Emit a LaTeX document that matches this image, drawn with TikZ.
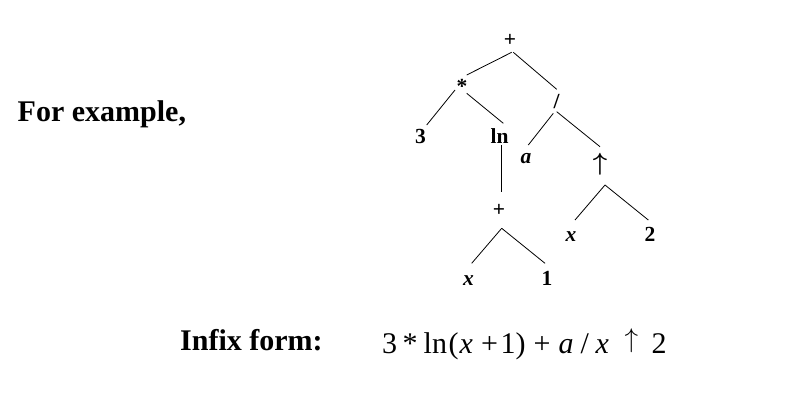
\documentclass[tikz,border=0pt]{standalone}
\usepackage{fontspec}
\setmainfont{Liberation Serif}
\newcommand\glyphat[2]{\makebox[0pt][l]{\hspace*{#1pt}#2}}
\newcommand\uparr[1]{\scalebox{#1}{\raisebox{\depth}{\fontsize{24.88}{25}\selectfont$\uparrow$}}}
\newcommand\bolduparr[1]{\scalebox{#1}{\raisebox{\depth}{\fontsize{24.88}{25}\selectfont\boldmath$\uparrow$}}}
\begin{document}
\begin{tikzpicture}[x=1pt,y=-1pt,
  lbl/.style={font=\fontsize{21.5}{21.5}\selectfont\bfseries, inner sep=0pt, anchor=base},
  big/.style={font=\fontsize{30}{30}\selectfont\bfseries, inner sep=0pt, anchor=base west},
  formula/.style={font=\fontsize{30}{30}\selectfont, inner sep=0pt, anchor=base west},
  edge/.style={line width=0.8pt, black}]
\useasboundingbox (0,0) rectangle (786,407);
% tree labels
\node[lbl] (plus1) at (510,46) {+};
\node[lbl] (star) at (462,93) {*};
\node[lbl] (slash) at (556.5,108) {/};
\node[lbl] (three) at (420.5,143) {3};
\node[lbl] (ln) at (499.5,143) {ln};
\node[lbl] (a) at (526,163) {\itshape a};
\node[lbl] (up) at (600,175) {\bolduparr{1}};
\node[lbl] (plus2) at (499,216.5) {+};
\node[lbl] (x1) at (468.5,285) {\itshape x};
\node[lbl] (one) at (547,285) {1};
\node[lbl] (x2) at (571,241) {\itshape x};
\node[lbl] (two) at (650,241) {2};
% edges
\draw[edge] ([shift={(1.7,6.3)}]plus1.base) -- ([shift={(4.7,-18)}]star.base);
\draw[edge] ([shift={(3.3,6.3)}]plus1.base) -- ([shift={(0.2,-18.7)}]slash.base);
\draw[edge] ([shift={(-7,-3)}]star.base) -- ([shift={(6.2,-18)}]three.base);
\draw[edge] ([shift={(4.7,0.3)}]star.base) -- ([shift={(3.8,-19.7)}]ln.base);
\draw[edge] ([shift={(2.2,2)}]ln.base) -- ([shift={(2.7,-24.8)}]plus2.base);
\draw[edge] ([shift={(-3.2,5.3)}]slash.base) -- ([shift={(2.3,-18)}]a.base);
\draw[edge] ([shift={(0.2,3.7)}]slash.base) -- ([shift={(0,-28.3)}]up.base);
\draw[edge] ([shift={(5,10)}]up.base) -- ([shift={(4,-21)}]x2.base);
\draw[edge] ([shift={(5,10)}]up.base) -- ([shift={(-1.7,-21)}]two.base);
\draw[edge] ([shift={(2.7,11.8)}]plus2.base) -- ([shift={(3.2,-21.7)}]x1.base);
\draw[edge] ([shift={(2.7,11.8)}]plus2.base) -- ([shift={(-2,-21.7)}]one.base);
% texts
\node[big] (example) at (17.5,121) {For example,};
\node[big] (infix) at (180,350) {Infix form:};
\node[formula] (expr) at (381.5,353) {\glyphat{0}{3}\glyphat{20.5}{*}\glyphat{41.5}{ln}\glyphat{66.5}{(}\glyphat{77.5}{\itshape x}\glyphat{99}{+}\glyphat{118.5}{1}\glyphat{133.5}{)}\glyphat{151.5}{+}\glyphat{176.5}{\itshape a}\glyphat{198.5}{/}\glyphat{213.5}{\itshape x}\glyphat{242.5}{\uparr{1.09}}\glyphat{269.5}{2}};
\end{tikzpicture}
\end{document}
